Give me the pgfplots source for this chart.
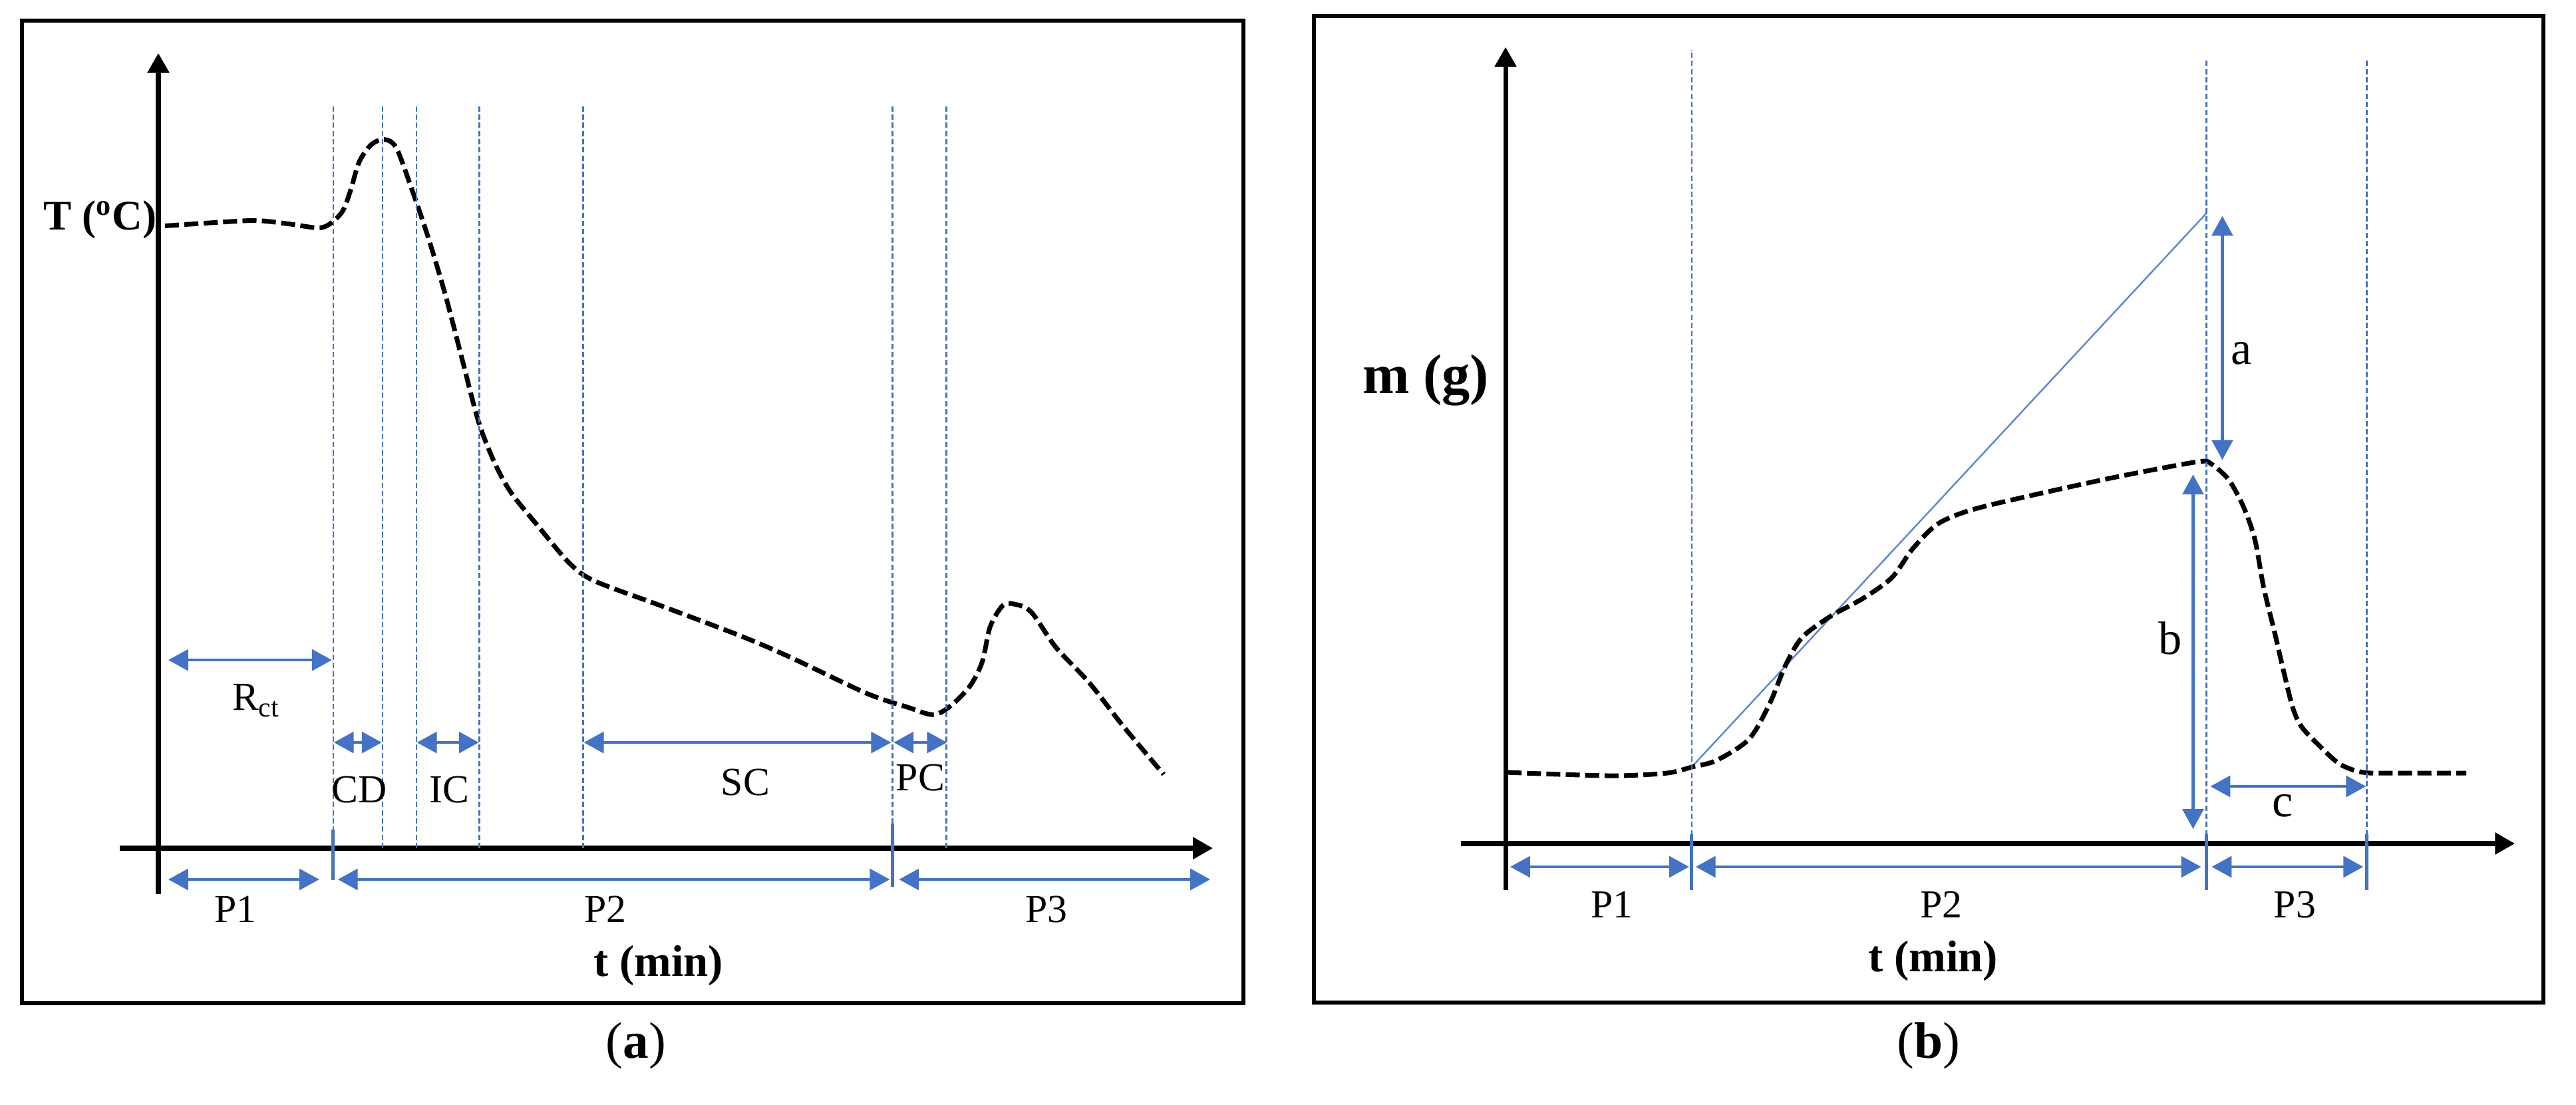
\documentclass[border=0pt]{standalone}
\usepackage{pgfplots}
\pgfplotsset{compat=1.18}
\usepackage{fontspec}
\setmainfont{Liberation Serif}
\usetikzlibrary{arrows.meta}
\definecolor{myblue}{HTML}{4472C4}

\tikzset{
  barr/.style={myblue, line width=1.2pt, {Triangle[width=9pt,length=8.5pt]}-{Triangle[width=9pt,length=8.5pt]}},
  vdash/.style={myblue, line width=0.7pt, dash pattern=on 2.3pt off 1.2pt},
  curve/.style={black, line width=2pt, dash pattern=on 6pt off 2.3pt},
  lab/.style={font=\fontsize{17}{20}\selectfont, inner sep=0pt},
  blab/.style={font=\fontsize{19}{22}\selectfont\bfseries, inner sep=0pt},
}
\pgfplotsset{schem/.style={
  x=0.01cm, y=0.01cm, scale only axis,
  axis lines=middle, ticks=none, clip=false,
  axis line style={line width=2pt},
  x axis line style={-{Triangle[width=9pt,length=8.5pt]}},
  y axis line style={-{Triangle[width=9pt,length=8.5pt]}},
  anchor=origin}}

\begin{document}
\begin{tikzpicture}
\useasboundingbox (0,0) rectangle (38.72,16.6);
% frames and captions
\draw[line width=1.7pt] (0.33,1.52) rectangle (18.69,16.29);
\draw[line width=1.7pt] (19.75,1.53) rectangle (38.23,16.36);
\node[font=\fontsize{22}{26}\selectfont, inner sep=0pt] at (9.56,0.88) {(\textbf{a})};
\node[font=\fontsize{22}{26}\selectfont, inner sep=0pt] at (28.99,0.88) {(\textbf{b})};

% ---------------- panel (a) ----------------
\begin{axis}[schem, at={(2.38cm,3.85cm)},
  xmin=-58, xmax=1586, ymin=-69, ymax=1196]
\addplot[curve, smooth] coordinates {
(10,936)(85,941)(147,944)(196,939)(240,933)(258,939)(277,958)(289,989)
(302,1032)(320,1058)(340,1066)(358,1053)(382,989)(407,915)(432,831)
(457,735)(482,640)(507,577)(531,534)(569,487)(618,429)(656,402)(755,365)
(879,318)(953,286)(1065,233)(1127,212)(1164,201)(1189,212)(1220,243)
(1239,280)(1251,333)(1270,365)(1288,367)(1313,355)(1350,302)(1400,249)
(1450,185)(1512,111)};
% vertical phase lines
\addplot[vdash] coordinates {(263,0)(263,1117)};
\addplot[vdash] coordinates {(337,0)(337,1120)};
\addplot[vdash] coordinates {(388,0)(388,1120)};
\addplot[vdash] coordinates {(483,0)(483,1117)};
\addplot[vdash] coordinates {(639,0)(639,1117)};
\addplot[vdash] coordinates {(1104,0)(1104,1117)};
\addplot[vdash] coordinates {(1185,0)(1185,1117)};
\addplot[myblue, line width=1.4pt] coordinates {(263,28)(263,-48)};
\addplot[myblue, line width=1.4pt] coordinates {(1104,37)(1104,-58)};
% arrows
\draw[barr] (axis cs:15,283) -- (axis cs:261,283);
\draw[barr] (axis cs:264,159) -- (axis cs:336,159);
\draw[barr] (axis cs:389,159) -- (axis cs:482,159);
\draw[barr] (axis cs:640,159) -- (axis cs:1102,159);
\draw[barr] (axis cs:1106,159) -- (axis cs:1186,159);
\draw[barr] (axis cs:15,-47) -- (axis cs:242,-47);
\draw[barr] (axis cs:270,-47) -- (axis cs:1100,-47);
\draw[barr] (axis cs:1114,-47) -- (axis cs:1582,-47);
% labels
\node[lab] at (axis cs:147,222) {R\textsubscript{ct}};
\node[lab] at (axis cs:302,88) {CD};
\node[lab] at (axis cs:438,88) {IC};
\node[lab] at (axis cs:883,99) {SC};
\node[lab] at (axis cs:1146,106) {PC};
\node[lab] at (axis cs:116,-92) {P1};
\node[lab] at (axis cs:672,-92) {P2};
\node[lab] at (axis cs:1336,-92) {P3};
\node[blab] at (axis cs:752,-177) {t (min)};
\node[font=\fontsize{18}{22}\selectfont\bfseries, inner sep=0pt, anchor=east] at (axis cs:-2,945) {T (\textsuperscript{o}C)};
\end{axis}

% ---------------- panel (b) ----------------
\begin{axis}[schem, at={(22.63cm,3.92cm)},
  xmin=-67, xmax=1518, ymin=-70, ymax=1198]
\addplot[myblue!85, line width=0.7pt] coordinates {(277,112)(1054,948)};
\addplot[curve, smooth] coordinates {
(3,107)(83,104)(169,102)(243,106)(280,115)(317,125)(366,157)(397,210)
(421,268)(446,310)(489,342)(538,369)(581,400)(612,443)(649,480)(698,501)
(784,522)(907,549)(1005,568)(1048,575)(1060,572)(1087,548)(1110,506)
(1127,457)(1140,386)(1157,316)(1170,260)(1184,204)(1197,176)(1220,151)
(1254,120)(1290,107)(1340,106)(1445,106)};
\addplot[vdash] coordinates {(280,0)(280,1194)};
\addplot[vdash] coordinates {(1054,0)(1054,1178)};
\addplot[vdash] coordinates {(1295,0)(1295,1178)};
\addplot[myblue, line width=1.4pt] coordinates {(280,14)(280,-70)};
\addplot[myblue, line width=1.4pt] coordinates {(1054,14)(1054,-70)};
\addplot[myblue, line width=1.4pt] coordinates {(1295,14)(1295,-70)};
\draw[barr] (axis cs:1078,944) -- (axis cs:1078,577);
\draw[barr] (axis cs:1034,555) -- (axis cs:1034,22);
\draw[barr] (axis cs:1060,86) -- (axis cs:1294,86);
\draw[barr] (axis cs:7,-35) -- (axis cs:276,-35);
\draw[barr] (axis cs:286,-35) -- (axis cs:1046,-35);
\draw[barr] (axis cs:1062,-35) -- (axis cs:1290,-35);
\node[font=\fontsize{20}{24}\selectfont, inner sep=0pt] at (axis cs:1107,737) {a};
\node[font=\fontsize{20}{24}\selectfont, inner sep=0pt] at (axis cs:1000,309) {b};
\node[font=\fontsize{20}{24}\selectfont, inner sep=0pt] at (axis cs:1169,57) {c};
\node[lab] at (axis cs:160,-92) {P1};
\node[lab] at (axis cs:655,-92) {P2};
\node[lab] at (axis cs:1187,-92) {P3};
\node[blab] at (axis cs:643,-177) {t (min)};
\node[font=\fontsize{24}{28}\selectfont\bfseries, inner sep=0pt] at (axis cs:-120,697) {m (g)};
\end{axis}
\end{tikzpicture}
\end{document}
